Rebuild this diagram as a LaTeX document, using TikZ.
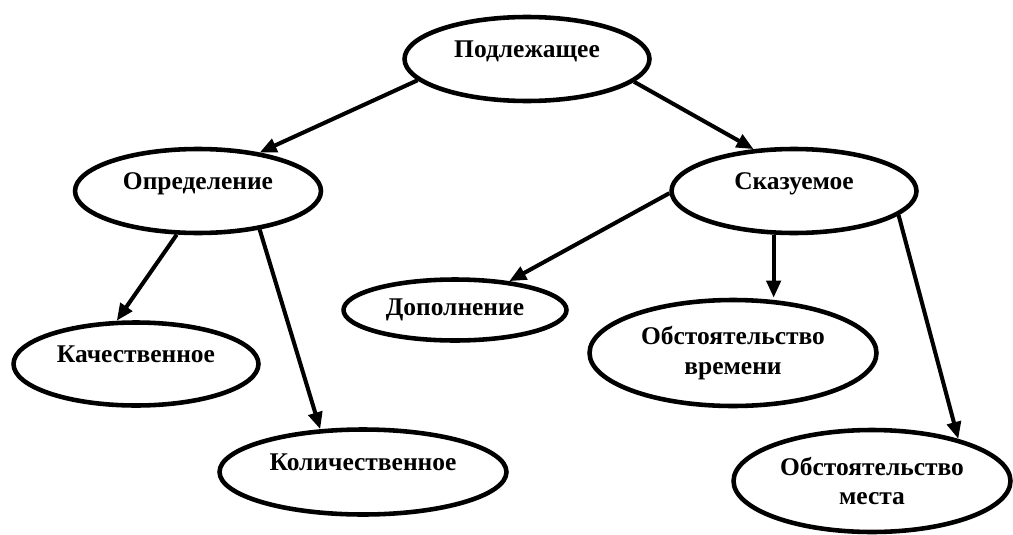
\documentclass[tikz,border=0pt]{standalone}
\usepackage{fontspec}
\setmainfont{Liberation Serif}
\usetikzlibrary{shapes.geometric, arrows.meta}

\begin{document}
\begin{tikzpicture}[x=0.02cm, y=-0.02cm,
  oval/.style={draw, ellipse, line width=2.6pt, inner sep=0pt, align=center,
    font=\bfseries\fontsize{14.5}{17}\selectfont},
  up/.style={text height=0.34cm, text depth=0.4cm},
  arr/.style={-{Triangle[length=0.34cm, width=0.28cm]}, line width=2.3pt}]
  \useasboundingbox (0,0) rectangle (1013,534);

  % Члены предложения
  \node[oval, up, minimum width=4.9cm, minimum height=1.68cm] (podl) at (527,59) {Подлежащее};
  \node[oval, up, minimum width=4.92cm, minimum height=1.68cm] (opr) at (198,191) {Определение};
  \node[oval, up, minimum width=4.9cm, minimum height=1.68cm] (skaz) at (794,191) {Сказуемое};
  \node[oval, minimum width=4.46cm, minimum height=1.22cm] (dop) at (455,310) {Дополнение};
  \node[oval, minimum width=5.74cm, minimum height=2.12cm] (vrem) at (733,353) {Обстоятельство\\времени};
  \node[oval, up, minimum width=4.9cm, minimum height=1.66cm] (kach) at (136,364) {Качественное};
  \node[oval, up, minimum width=5.74cm, minimum height=1.7cm] (kol) at (363,472) {Количественное};
  \node[oval, minimum width=5.54cm, minimum height=2.04cm] (mesta) at (872,481) {Обстоятельство\\места};

  % Стрелки
  \draw[arr] (podl.191) -- (opr.32);
  \draw[arr] (podl.348) -- (skaz.134);
  \draw[arr] (opr.244) -- (kach.114);
  \draw[arr] (opr.328) -- (kol.135);
  \draw[arr] (skaz.181) -- (dop.28);
  \draw[arr] (skaz.245) -- (skaz.245 |- vrem.north);
  \draw[arr] (skaz.347) -- (mesta.26);
\end{tikzpicture}
\end{document}
